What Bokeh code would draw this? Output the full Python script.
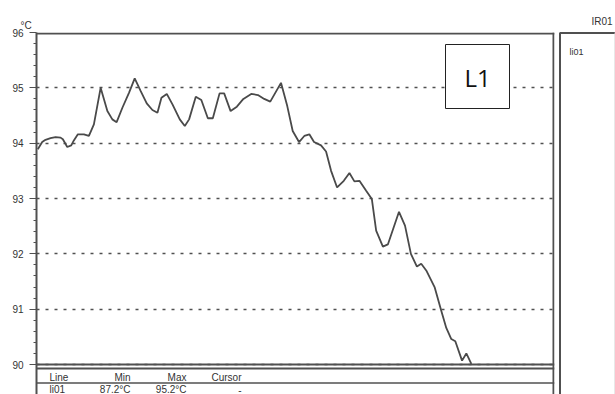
from bokeh.plotting import figure
from bokeh.layouts import row, column
from bokeh.models import Range1d, FixedTicker
from bokeh.core.properties import value
from bokeh.embed import file_html
from bokeh.resources import INLINE

# IR01 channel, line li01: temperature over time (s)
time_s = [0.25, 1.1, 1.74, 2.71, 3.68, 4.64, 5.09, 5.94, 6.71, 7.21,
          7.99, 9.15, 10.12, 11.08, 12.38, 13.68, 14.64, 15.47, 16.58, 17.85,
          18.96, 20.12, 21.28, 22.38, 23.35, 24.12, 25.15, 26.25, 27.66, 28.63,
          29.46, 30.75, 31.82, 33.08, 34.04, 35.34, 36.23, 37.47, 38.68, 39.94,
          41.45, 42.75, 43.96, 45.13, 47.20, 48.41, 49.46, 50.68, 51.70, 52.67,
          53.58, 54.93, 55.90, 56.87, 58.03, 59.32, 60.41, 61.37, 62.34, 63.64,
          64.74, 65.57, 66.87, 67.83, 69.98, 71.14, 72.28, 73.44, 74.27, 75.24,
          76.85, 78.14, 79.11, 80.08, 80.85, 82.15, 82.98, 83.95]
temp_c = [93.89, 94.02, 94.06, 94.09, 94.11, 94.10, 94.07, 93.93, 93.96, 94.05,
          94.16, 94.16, 94.13, 94.34, 95.00, 94.58, 94.43, 94.38, 94.64, 94.91,
          95.17, 94.94, 94.72, 94.60, 94.55, 94.82, 94.89, 94.70, 94.43, 94.31,
          94.43, 94.84, 94.78, 94.45, 94.45, 94.90, 94.90, 94.58, 94.66, 94.80,
          94.89, 94.87, 94.80, 94.75, 95.09, 94.67, 94.22, 94.02, 94.13, 94.16,
          94.02, 93.96, 93.85, 93.50, 93.20, 93.32, 93.46, 93.31, 93.32, 93.14,
          92.99, 92.42, 92.13, 92.17, 92.76, 92.51, 92.00, 91.77, 91.82, 91.70,
          91.40, 90.97, 90.66, 90.46, 90.42, 90.07, 90.20, 90.01]

y_ticks = [90, 91, 92, 93, 94, 95, 96]
unit = "°C"
channel = "IR01"
series_name = "li01"
marker_label = "L1"
table_header = ["Line", "Min", "Max", "Cursor"]
table_row = ["li01", "87.2°C", "95.2°C", "-"]

FONT = "Liberation Sans"
DARK = "#505050"
TXT = "#333333"

# page geometry (pixels): chart area, then the statistics table below it
W, H = 558, 394
LEFT, RIGHT, TOP = 36, 554, 32
CHART_BOTTOM = 364
T_MIN, T_MAX = 0, 100
Y_MIN, Y_MAX = y_ticks[0], y_ticks[-1]
px_per_deg = (CHART_BOTTOM - TOP) / (Y_MAX - Y_MIN)
y_start = Y_MIN - (H - CHART_BOTTOM) / px_per_deg

p = figure(width=W, height=H, x_range=Range1d(T_MIN, T_MAX), y_range=Range1d(y_start, Y_MAX),
           output_backend="svg", toolbar_location=None,
           min_border_left=LEFT, min_border_right=W - RIGHT, min_border_top=TOP,
           min_border_bottom=0, background_fill_color="white", border_fill_color="white")
# pixel-aligned ranges for the frame lines and the table
p.extra_x_ranges = {"px": Range1d(LEFT, RIGHT)}
p.extra_y_ranges = {"px": Range1d(H, TOP)}

p.xaxis.visible = False
p.xgrid.visible = False
p.outline_line_color = None

yax = p.yaxis[0]
yax.ticker = FixedTicker(ticks=y_ticks,
                         minor_ticks=[a + k * 0.2 for a in y_ticks[:-1] for k in range(1, 5)])
yax.major_tick_in = 0
yax.major_tick_out = 7
yax.minor_tick_in = 0
yax.minor_tick_out = 3
yax.major_tick_line_color = DARK
yax.minor_tick_line_color = DARK
yax.axis_line_color = DARK
yax.axis_line_width = 2
yax.major_label_standoff = 6
yax.major_label_text_font = FONT
yax.major_label_text_font_size = "10px"
yax.major_label_text_color = TXT

p.ygrid.grid_line_color = DARK
p.ygrid.grid_line_dash = "3 6"
p.ygrid.grid_line_width = 1.5

p.title.text = unit
p.title.align = "left"
p.title.offset = -16
p.title.standoff = 3
p.title.text_font = FONT
p.title.text_font_size = "10px"
p.title.text_font_style = "normal"
p.title.text_color = TXT

# frame lines: top, right, chart bottom, table top, table row separator
p.segment(x0=[LEFT, RIGHT - 1, LEFT, LEFT], y0=[TOP + 1, TOP, CHART_BOTTOM, 368],
          x1=[RIGHT, RIGHT - 1, RIGHT, RIGHT], y1=[TOP + 1, H, CHART_BOTTOM, 368],
          line_color=DARK, line_width=2, x_range_name="px", y_range_name="px")
p.segment(x0=[LEFT], y0=[382.5], x1=[RIGHT], y1=[382.5],
          line_color=DARK, line_width=1.5, x_range_name="px", y_range_name="px")

# temperature trace
p.line(time_s, temp_c, line_color="#4a4a4a", line_width=1.8)

# line marker box
p.quad(left=[445], right=[509], top=[44], bottom=[108],
       fill_color="white", line_color="#222222", line_width=1,
       x_range_name="px", y_range_name="px")
p.text(x=[477], y=[77], text=[marker_label], text_align="center",
       text_baseline="middle", text_font_size="24px", text_font=value("Open Sans"),
       text_color="#111111", x_range_name="px", y_range_name="px")

# statistics table
p.text(x=[49, 49], y=[377, 389], text=[table_header[0], table_row[0]],
       text_align="left", text_baseline="middle", text_font=value(FONT),
       text_font_size="10px", text_color=TXT, x_range_name="px", y_range_name="px")
p.text(x=[130, 186, 241, 130, 186, 241], y=[377, 377, 377, 389, 389, 389],
       text=table_header[1:] + table_row[1:], text_align="right",
       text_baseline="middle", text_font=value(FONT), text_font_size="10px",
       text_color=TXT, x_range_name="px", y_range_name="px")

# legend panel on the right
s = figure(width=57, height=394, x_range=Range1d(0, 57), y_range=Range1d(394, 0),
           x_axis_type=None, y_axis_type=None, output_backend="svg", toolbar_location=None,
           min_border_left=0, min_border_right=0, min_border_top=0, min_border_bottom=0,
           background_fill_color="white", border_fill_color="white")
s.outline_line_color = None
s.grid.visible = False
s.segment(x0=[1.5, 1.5], y0=[32, 32.5], x1=[1.5, 57], y1=[394, 32.5],
          line_color=DARK, line_width=2)
s.segment(x0=[56.5], y0=[32], x1=[56.5], y1=[394], line_color="#d0d0d0", line_width=1)
s.text(x=[54], y=[21], text=[channel], text_align="right", text_baseline="middle",
       text_font=value(FONT), text_font_size="10px", text_color=TXT)
s.text(x=[11], y=[51], text=[series_name], text_align="left", text_baseline="middle",
       text_font=value(FONT), text_font_size="9px", text_color=TXT)

# nest each plot in its own column so the row does not align their frames
layout = row(column(p), column(s))
open("out.html", "w").write(file_html(layout, INLINE))
